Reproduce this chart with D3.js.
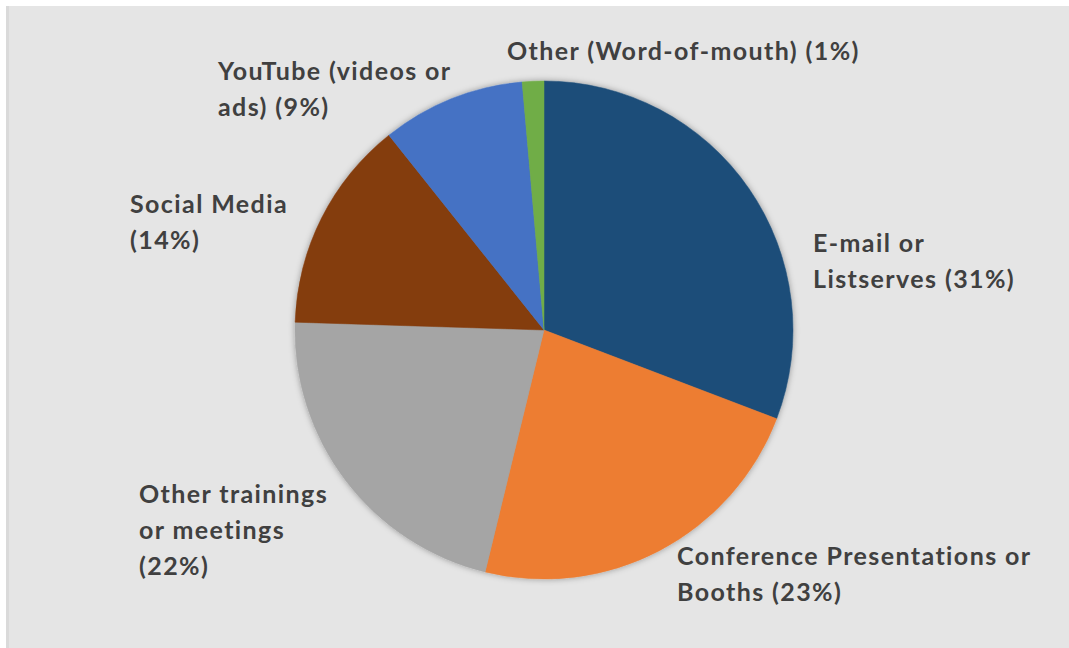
<!DOCTYPE html>
<html>
<head>
<meta charset="utf-8">
<script src="https://cdn.jsdelivr.net/npm/d3@7"></script>
<style>
  body { margin: 0; background: #fff; }
  svg { display: block; }
</style>
</head>
<body>
<div id="chart"></div>
<script>
// slices, clockwise from 12 o'clock
let categories = ["E-mail or Listserves", "Conference Presentations or Booths", "Other trainings or meetings",
                  "Social Media", "YouTube (videos or ads)", "Other (Word-of-mouth)"];
let values = [30.8, 23.0, 21.7, 13.8, 9.3, 1.4];
let colors = ["#1f4e79", "#ed7d31", "#a5a5a5", "#843c0c", "#4472c4", "#70ad47"];
// how each label breaks into lines (the percent goes on the end)
let labelLines = [
    ["E-mail or", "Listserves"],
    ["Conference Presentations or", "Booths"],
    ["Other trainings", "or meetings", ""],
    ["Social Media", ""],
    ["YouTube (videos or", "ads)"],
    ["Other (Word-of-mouth)"]
];

const width = 1069, height = 648;
const cx = 544, cy = 330, radius = 249;
const lineH = 36;

// label anchor (left x, first baseline) relative to the pie center
const labelPos = [[269, -78], [133, 235], [-405, 173], [-414, -117], [-326, -250], [-37, -270]];

function main(){
    let svg = d3.select("#chart").append("svg")
        .attr("width", width)
        .attr("height", height);

    let defs = svg.append("defs");
    let f = defs.append("filter").attr("id", "shadow")
        .attr("x", "-10%").attr("y", "-10%").attr("width", "120%").attr("height", "120%");
    f.append("feDropShadow").attr("dx", 0).attr("dy", 0).attr("stdDeviation", 3)
        .attr("flood-color", "#000").attr("flood-opacity", 0.35);

    svg.append("rect")
        .attr("x", 6).attr("y", 6)
        .attr("width", width - 6).attr("height", height - 6)
        .attr("fill", "#e5e5e5");
    svg.append("rect")
        .attr("x", 6).attr("y", 6)
        .attr("width", 3).attr("height", height - 6)
        .attr("fill", "#dadada");

    let data = categories.map((c, i) => ({name: c, value: values[i], color: colors[i], lines: labelLines[i]}));
    let total = d3.sum(values);
    let fmt = v => Math.round(v / total * 100) + "%";

    let pie = d3.pie().sort(null).value(d => d.value);
    let arc = d3.arc().innerRadius(0).outerRadius(radius);

    let g = svg.append("g").attr("transform", `translate(${cx},${cy})`);
    g.append("g").attr("filter", "url(#shadow)")
        .selectAll("path")
        .data(pie(data))
        .join("path")
        .attr("d", arc)
        .attr("fill", d => d.data.color)
        .attr("stroke", d => d.data.color)
        .attr("stroke-width", 0.5);

    let labels = g.append("g")
        .style("font-family", "Lato, 'Open Sans', sans-serif")
        .style("font-weight", "bold")
        .style("font-size", "25px")
        .style("letter-spacing", "1.4px")
        .attr("fill", "#404040");

    data.forEach((d, i) => {
        let lines = d.lines.slice();
        let last = lines.length - 1;
        lines[last] = (lines[last] ? lines[last] + " " : "") + "(" + fmt(d.value) + ")";
        let t = labels.append("text")
            .attr("x", labelPos[i][0])
            .attr("y", labelPos[i][1]);
        t.selectAll("tspan")
            .data(lines)
            .join("tspan")
            .attr("x", labelPos[i][0])
            .attr("dy", (l, j) => j === 0 ? 0 : lineH)
            .text(l => l);
    });
}

main();
</script>
</body>
</html>
